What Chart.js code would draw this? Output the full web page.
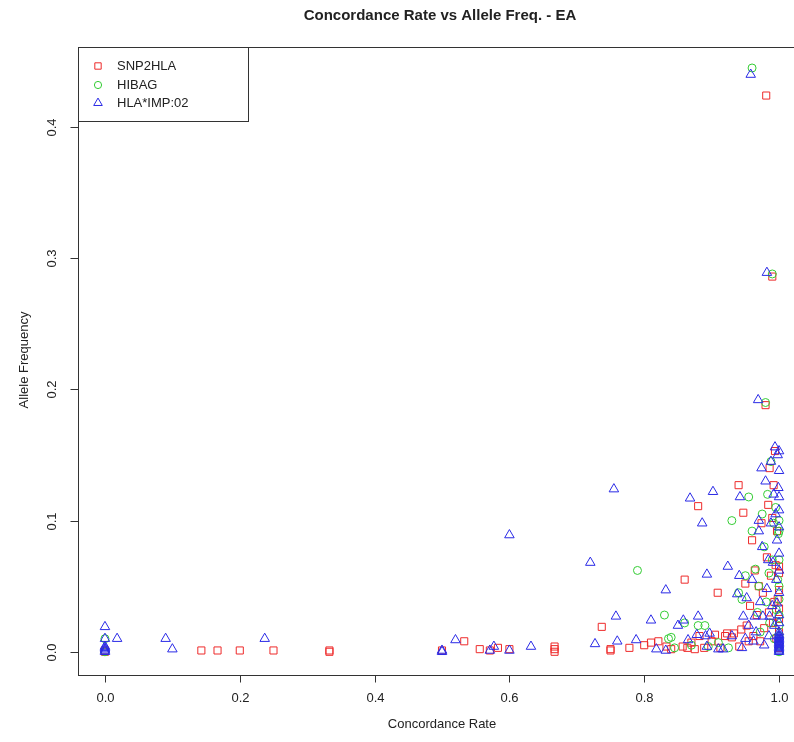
<!DOCTYPE html>
<html>
<head>
<meta charset="utf-8">
<script src="https://cdn.jsdelivr.net/npm/chart.js@4.4.1/dist/chart.umd.min.js"></script>
<style>
html,body{margin:0;padding:0;background:#fff;overflow:hidden;width:794px;height:742px;}
#wrap{position:absolute;left:0;top:0;width:830px;height:742px;}
</style>
</head>
<body>
<div id="wrap"><canvas id="c" width="830" height="742"></canvas></div>
<script>
const chartTitle = "Concordance Rate vs Allele Freq. - EA";
const xAxisTitle = "Concordance Rate";
const yAxisTitle = "Allele Frequency";
const xTickValues = [0.0, 0.2, 0.4, 0.6, 0.8, 1.0];
const yTickValues = [0.0, 0.1, 0.2, 0.3, 0.4];
const seriesNames = ["SNP2HLA", "HIBAG", "HLA*IMP:02"];

const snp2hlaX = [0,0,0.143,0.167,0.2,0.25,0.333,0.333,0.5,0.533,0.556,0.571,0.583,0.6,0.667,0.667,0.667,0.737,0.75,0.75,0.778,0.8,0.81,0.821,0.833,0.84,0.857,0.86,0.864,0.87,0.875,0.88,0.882,0.889,0.9,0.905,0.909,0.913,0.92,0.923,0.93,0.933,0.94,0.941,0.944,0.947,0.95,0.952,0.955,0.957,0.96,0.962,0.964,0.967,0.97,0.972,0.974,0.976,0.978,0.98,0.981,0.982,0.984,0.985,0.986,0.988,0.99,0.99,0.991,0.992,0.993,0.994,0.995,0.996,0.997,0.998,1,1,1,1,1,1,1,1];
const snp2hlaY = [0,0.001,0.001,0.001,0.001,0.001,0,0.001,0.001,0.008,0.002,0.001,0.003,0.002,0,0.002,0.004,0.019,0.001,0.002,0.003,0.005,0.007,0.008,0.004,0.002,0.004,0.055,0.003,0.007,0.002,0.111,0.012,0.003,0.008,0.013,0.045,0.003,0.012,0.014,0.011,0.014,0.127,0.004,0.017,0.106,0.052,0.02,0.008,0.035,0.085,0.012,0.062,0.028,0.05,0.008,0.098,0.045,0.018,0.188,0.424,0.072,0.112,0.03,0.14,0.058,0.286,0.102,0.022,0.127,0.038,0.153,0.066,0.01,0.092,0.04,0.003,0.006,0.015,0.025,0.033,0.047,0.06,0.065];

const hibagX = [0,0,0.79,0.83,0.836,0.84,0.845,0.86,0.87,0.88,0.89,0.895,0.91,0.925,0.93,0.94,0.945,0.95,0.955,0.96,0.96,0.965,0.968,0.97,0.972,0.975,0.978,0.98,0.981,0.983,0.985,0.986,0.988,0.99,0.99,0.992,0.993,0.995,0.996,0.998,0.999,1,1,1,1,1,1,1,1,1,1];
const hibagY = [0,0.01,0.062,0.028,0.01,0.011,0.003,0.022,0.005,0.02,0.02,0.004,0.007,0.003,0.1,0.045,0.04,0.058,0.118,0.092,0.445,0.063,0.03,0.05,0.015,0.105,0.08,0.19,0.038,0.12,0.06,0.022,0.145,0.288,0.07,0.098,0.01,0.11,0.032,0.055,0.09,0,0.005,0.012,0.02,0.028,0.04,0.05,0.07,0.092,0.1];

const hlaimpX = [0,0,0,0,0,0,0,0.018,0.09,0.1,0.237,0.5,0.5,0.52,0.571,0.577,0.6,0.6,0.632,0.72,0.727,0.755,0.758,0.76,0.788,0.81,0.818,0.832,0.832,0.85,0.858,0.865,0.868,0.878,0.88,0.886,0.891,0.893,0.893,0.897,0.902,0.91,0.917,0.924,0.93,0.938,0.941,0.942,0.945,0.947,0.95,0.952,0.955,0.958,0.96,0.962,0.964,0.966,0.969,0.97,0.97,0.972,0.974,0.975,0.976,0.978,0.98,0.982,0.982,0.984,0.985,0.986,0.988,0.988,0.99,0.991,0.992,0.993,0.994,0.995,0.996,0.997,0.997,0.998,0.999,1,1,1,1,1,1,1,1,1,1,1,1,1,1,1,1,1,1,1,1,1,1,1,1,1];
const hlaimpY = [0,0.001,0.002,0.003,0.004,0.01,0.019,0.01,0.01,0.002,0.01,0,0.001,0.009,0.001,0.004,0.001,0.089,0.004,0.068,0.006,0.124,0.027,0.008,0.009,0.024,0.002,0.047,0.001,0.02,0.024,0.009,0.117,0.013,0.027,0.098,0.012,0.059,0.004,0.014,0.122,0.002,0.002,0.065,0.012,0.044,0.058,0.118,0.003,0.027,0.01,0.041,0.02,0.44,0.055,0.008,0.027,0.015,0.192,0.1,0.092,0.038,0.14,0.08,0.027,0.005,0.13,0.289,0.048,0.07,0.012,0.027,0.098,0.145,0.035,0.068,0.12,0.02,0.156,0.105,0.055,0.037,0.085,0.15,0.125,0,0.001,0.002,0.003,0.004,0.005,0.006,0.007,0.008,0.009,0.01,0.011,0.012,0.013,0.015,0.022,0.028,0.045,0.062,0.075,0.095,0.108,0.118,0.138,0.153];

function pts(xs, ys){ return xs.map((v,i)=>({x:v, y:ys[i]})); }

const FONT = '"Liberation Sans", Arial, Helvetica, sans-serif';
const colors = ['#ee2a2a', '#33cc33', '#2a2ae6'];
const styles = ['rect', 'circle', 'triangle'];
const radii = [5, 4, 5.5];

const rPlot = {
  id: 'rPlot',
  afterDraw(chart){
    const ctx = chart.ctx, a = chart.chartArea, xs = chart.scales.x, ys = chart.scales.y;
    ctx.save();
    ctx.strokeStyle = '#333'; ctx.lineWidth = 1;
    ctx.strokeRect(Math.round(a.left)+0.5, Math.round(a.top)+0.5, Math.round(a.right-a.left), Math.round(a.bottom-a.top));
    ctx.fillStyle = '#222';
    ctx.font = '13px ' + FONT;
    ctx.textAlign = 'center'; ctx.textBaseline = 'middle';
    const bottom = Math.round(a.bottom)+0.5, left = Math.round(a.left)+0.5;
    xTickValues.forEach(v => {
      const px = Math.round(xs.getPixelForValue(v))+0.5;
      ctx.beginPath(); ctx.moveTo(px, bottom); ctx.lineTo(px, bottom+7); ctx.stroke();
      ctx.fillText(v.toFixed(1), px, 698);
    });
    yTickValues.forEach(v => {
      const py = Math.round(ys.getPixelForValue(v))+0.5;
      ctx.beginPath(); ctx.moveTo(left-8, py); ctx.lineTo(left, py); ctx.stroke();
      ctx.save(); ctx.translate(52, py); ctx.rotate(-Math.PI/2); ctx.fillText(v.toFixed(1), 0, 0); ctx.restore();
    });
    ctx.fillText(xAxisTitle, (xs.getPixelForValue(0)+xs.getPixelForValue(1))/2, 724);
    ctx.save(); ctx.translate(24, 360); ctx.rotate(-Math.PI/2); ctx.fillText(yAxisTitle, 0, 0); ctx.restore();
    ctx.font = 'bold 15px ' + FONT;
    ctx.fillText(chartTitle, 440, 16);
    // legend
    ctx.fillStyle = '#fff';
    ctx.fillRect(78.5, 47.5, 170, 74);
    ctx.strokeRect(78.5, 47.5, 170, 74);
    ctx.font = '13px ' + FONT; ctx.textAlign = 'left';
    const rowY = [66, 85, 103];
    seriesNames.forEach((n, i) => {
      ctx.fillStyle = '#222';
      ctx.fillText(n, 117, rowY[i]);
      ctx.fillStyle = 'rgba(0,0,0,0)';
      ctx.strokeStyle = colors[i];
      ctx.lineWidth = 1;
      Chart.helpers.drawPoint(ctx, {pointStyle: styles[i], radius: radii[i]*0.9, borderWidth: 1}, 98, rowY[i]);
      ctx.strokeStyle = '#333';
    });
    ctx.restore();
  }
};

const makeDs = (i, data, order) => ({
  label: seriesNames[i], data, pointStyle: styles[i], pointRadius: radii[i],
  pointHoverRadius: radii[i], borderColor: colors[i], backgroundColor: 'rgba(0,0,0,0)',
  pointBorderWidth: 1, showLine: false, order
});

new Chart(document.getElementById('c'), {
  type: 'scatter',
  data: { datasets: [
    makeDs(0, pts(snp2hlaX, snp2hlaY), 3),
    makeDs(1, pts(hibagX, hibagY), 2),
    makeDs(2, pts(hlaimpX, hlaimpY), 1)
  ]},
  options: {
    responsive: false, animation: false,
    layout: { padding: { left: 78, right: 24, top: 47, bottom: 67 } },
    plugins: { legend: { display: false }, title: { display: false }, tooltip: { enabled: false } },
    scales: {
      x: { type: 'linear', min: -0.04, max: 1.04, display: false },
      y: { type: 'linear', min: -0.0177, max: 0.461, display: false }
    }
  },
  plugins: [rPlot]
});
</script>
</body>
</html>
